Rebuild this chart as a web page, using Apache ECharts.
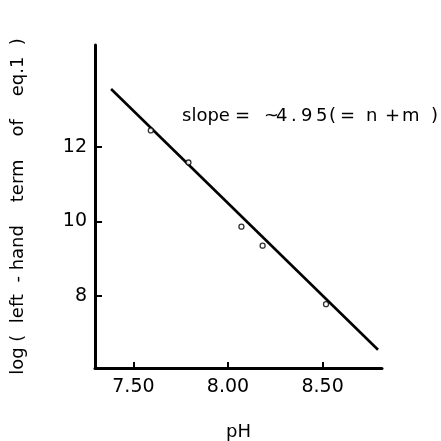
<!DOCTYPE html>
<html>
<head>
<meta charset="utf-8">
<script src="https://cdn.jsdelivr.net/npm/echarts@6/dist/echarts.min.js"></script>
<style>html,body{margin:0;padding:0;background:#fff}#c{width:441px;height:441px}</style>
</head>
<body>
<div id="c"></div>
<script>
var pH = [7.592, 7.791, 8.071, 8.183, 8.518];
var logTerm = [12.44, 11.58, 9.86, 9.35, 7.78];
var fitX = [7.382, 8.793];
var fitY = [13.55, 6.56];
var xTicks = [7.5, 8.0, 8.5];
var xTickLabels = ['7.50', '8.00', '8.50'];
var yTicks = [8, 10, 12];
var yTitle = 'log (  left  - hand    term    of    eq.1  )';
var xTitle = 'pH';
var annotationParts = ['slope', '=', '~', '4', '.', '9', '5', '(', '=', 'n', '+', 'm', ')'];

var font = 'DejaVu Sans';
var partX = [182, 235, 264, 276, 291, 301, 316, 329, 340, 366, 385, 402, 431];
var graphics = annotationParts.map(function (t, i) {
  return {type: 'text', left: partX[i], top: 107,
    style: {text: t, font: '18px "DejaVu Sans"', fill: '#000'}};
});

var chart = echarts.init(document.getElementById('c'));
chart.setOption({
  animation: false,
  backgroundColor: '#fff',
  grid: {left: 95, right: 59, top: 45, bottom: 73, outerBoundsMode: 'none', containLabel: false},
  xAxis: {
    type: 'value', min: 7.297, max: 8.814,
    name: xTitle, nameLocation: 'middle', nameGap: 55,
    nameTextStyle: {fontFamily: font, fontSize: 18, color: '#000'},
    axisLine: {show: true, lineStyle: {color: '#000', width: 3}},
    axisTick: {show: true, inside: true, length: 6, lineStyle: {color: '#000', width: 2}, customValues: xTicks},
    axisLabel: {fontFamily: font, fontSize: 19, color: '#000', margin: 10,
      customValues: xTicks,
      formatter: function (v) { var i = xTicks.indexOf(v); return i >= 0 ? xTickLabels[i] : ''; }},
    splitLine: {show: false}
  },
  yAxis: {
    type: 'value', min: 6.07, max: 14.73,
    name: yTitle, nameLocation: 'middle', nameGap: 68,
    nameRotate: 90,
    nameTextStyle: {fontFamily: font, fontSize: 18, color: '#000'},
    axisLine: {show: true, lineStyle: {color: '#000', width: 3}},
    axisTick: {show: true, inside: true, length: 7, lineStyle: {color: '#000', width: 2}, customValues: yTicks},
    axisLabel: {fontFamily: font, fontSize: 19, color: '#000', margin: 8, customValues: yTicks},
    splitLine: {show: false}
  },
  graphic: graphics,
  series: [{
    type: 'line',
    data: fitX.map(function (x, i) { return [x, fitY[i]]; }),
    symbol: 'none',
    lineStyle: {color: '#000', width: 2.6},
    z: 2
  }, {
    type: 'scatter',
    data: pH.map(function (x, i) { return [x, logTerm[i]]; }),
    symbol: 'circle', symbolSize: 5,
    itemStyle: {color: '#fff', borderColor: '#000', borderWidth: 1.3},
    z: 3
  }]
});
</script>
</body>
</html>
